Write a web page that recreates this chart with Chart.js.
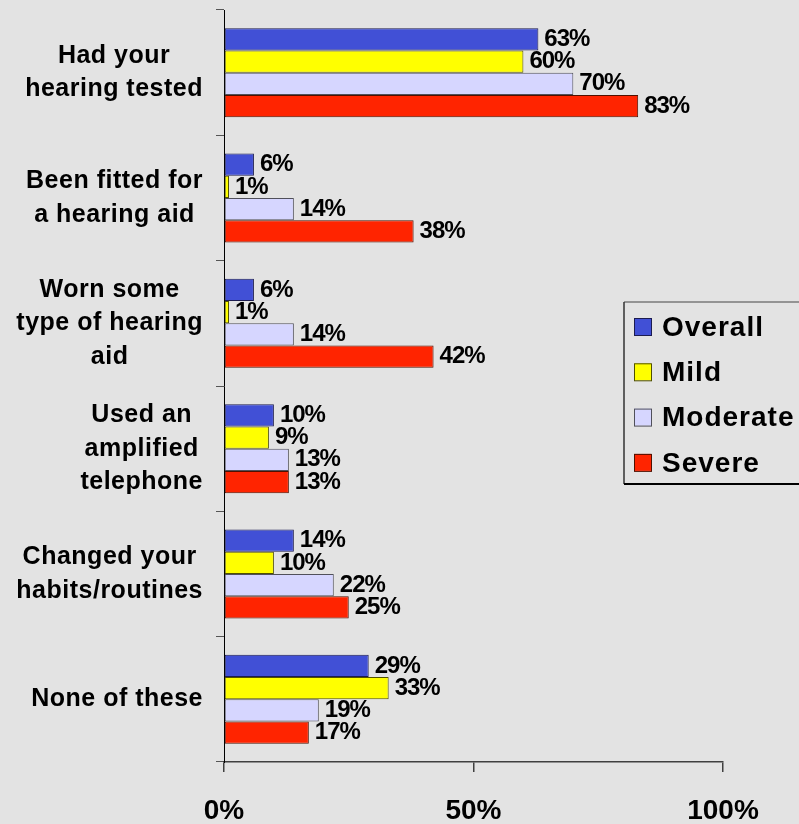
<!DOCTYPE html>
<html>
<head>
<meta charset="utf-8">
<script src="https://cdn.jsdelivr.net/npm/chart.js@4.4.1/dist/chart.umd.min.js"></script>
<style>
  html, body { margin: 0; padding: 0; background: #e3e3e3; }
  #wrap { width: 799px; height: 824px; }
</style>
</head>
<body>
<div id="wrap"><canvas id="chart"></canvas></div>
<script>
// Categories (multi-line, as in the original)
const categories = [
  ['Had your', 'hearing tested'],
  ['Been fitted for', 'a hearing aid'],
  ['Worn some', 'type of hearing', 'aid'],
  ['Used an', 'amplified', 'telephone'],
  ['Changed your', 'habits/routines'],
  ['None of these']
]

// Series values (%)
const overall  = [63, 6, 6, 10, 14, 29]
const mild     = [60, 1, 1, 9, 10, 33]
const moderate = [70, 14, 14, 13, 22, 19]
const severe   = [83, 38, 42, 13, 25, 17]

const seriesNames = ['Overall', 'Mild', 'Moderate', 'Severe']
const xTicks = [0, 50, 100]

const FONT = "'Liberation Sans', Arial, sans-serif"

/* ===============================
   PLUGINS
================================ */
const bgPlugin = {
  id: 'bg',
  beforeDraw(chart) {
    const ctx = chart.ctx
    ctx.save()
    ctx.fillStyle = '#e3e3e3'
    ctx.fillRect(0, 0, chart.width, chart.height)
    ctx.restore()
  }
}

// category labels, each one centred on its own widest line
const catLabelPlugin = {
  id: 'catLabels',
  afterDraw(chart) {
    const ctx = chart.ctx
    const yScale = chart.scales.y
    const rightEdge = yScale.right - 21
    ctx.save()
    ctx.font = 'bold 25px ' + FONT
    ctx.letterSpacing = '0.5px'
    ctx.fillStyle = '#000'
    ctx.textAlign = 'center'
    ctx.textBaseline = 'middle'
    chart.data.labels.forEach((lines, i) => {
      const y = yScale.getPixelForValue(i)
      const widest = Math.max(...lines.map(l => ctx.measureText(l).width))
      const cx = rightEdge - widest / 2
      lines.forEach((l, j) => {
        ctx.fillText(l, cx, y + (j - (lines.length - 1) / 2) * 33.5)
      })
    })
    ctx.restore()
  }
}

// value labels at the end of each bar
const valueLabelPlugin = {
  id: 'valueLabels',
  afterDatasetsDraw(chart) {
    const ctx = chart.ctx
    ctx.save()
    ctx.font = 'bold 24px ' + FONT
    ctx.letterSpacing = '-1px'
    ctx.fillStyle = '#000'
    ctx.textAlign = 'left'
    ctx.textBaseline = 'middle'
    chart.data.datasets.forEach((ds, di) => {
      const meta = chart.getDatasetMeta(di)
      meta.data.forEach((bar, i) => {
        ctx.fillText(ds.data[i] + '%', bar.x + 6, bar.y)
      })
    })
    ctx.restore()
  }
}

// boxed legend floating over the right side (runs off the canvas edge)
const legendBoxPlugin = {
  id: 'legendBox',
  afterDraw(chart) {
    const ctx = chart.ctx
    const left = 624, top = 302, bottom = 484, right = chart.width + 5
    ctx.save()
    ctx.lineWidth = 1.5
    ctx.strokeStyle = '#7a7a7a'
    ctx.beginPath(); ctx.moveTo(left, top); ctx.lineTo(right, top); ctx.stroke()
    ctx.strokeStyle = '#333'
    ctx.beginPath(); ctx.moveTo(left, top); ctx.lineTo(left, bottom); ctx.stroke()
    ctx.strokeStyle = '#000'
    ctx.lineWidth = 2
    ctx.beginPath(); ctx.moveTo(left, bottom); ctx.lineTo(right, bottom); ctx.stroke()

    ctx.font = 'bold 28px ' + FONT
    ctx.letterSpacing = '1px'
    ctx.textAlign = 'left'
    ctx.textBaseline = 'middle'
    chart.data.datasets.forEach((ds, i) => {
      const cy = top + 25 + i * 45.3
      ctx.fillStyle = ds.backgroundColor
      ctx.fillRect(634, cy - 9, 17, 17)
      ctx.strokeStyle = ds.borderColor
      ctx.lineWidth = 1
      ctx.strokeRect(634.5, cy - 8.5, 17, 17)
      ctx.fillStyle = '#000'
      ctx.fillText(ds.label, 662, cy + 1)
    })
    ctx.restore()
  }
}

/* ===============================
   CHART
================================ */
const colors = ['#4150d6', '#ffff00', '#d6d6ff', '#ff2400']
const borders = ['#1c1c50', '#505000', '#50505a', '#501000']
const values = [overall, mild, moderate, severe]

new Chart(document.getElementById('chart'), {
  type: 'bar',
  data: {
    labels: categories,
    datasets: seriesNames.map((name, i) => ({
      label: name,
      data: values[i],
      backgroundColor: colors[i],
      borderColor: borders[i],
      borderWidth: 1,
      borderSkipped: false,
      categoryPercentage: 0.71,
      barPercentage: 1.0
    }))
  },
  options: {
    indexAxis: 'y',
    responsive: true,
    maintainAspectRatio: false,
    animation: false,
    layout: { padding: { top: 10, right: 76, left: 0, bottom: 0 } },
    plugins: {
      legend: { display: false },
      tooltip: { enabled: false }
    },
    scales: {
      x: {
        min: 0,
        max: 100,
        afterBuildTicks: scale => { scale.ticks = xTicks.map(v => ({ value: v })) },
        afterFit: scale => { scale.height = 62 },
        ticks: {
          callback: v => v + '%',
          color: '#000',
          font: { family: FONT, size: 28, weight: 'bold' },
          padding: 22,
          maxRotation: 0
        },
        grid: { drawOnChartArea: false, tickLength: 10, color: '#404040', lineWidth: 1.5 },
        border: { color: '#404040', width: 1.5 }
      },
      y: {
        afterFit: scale => { scale.width = 224 },
        ticks: { display: false },
        grid: { drawOnChartArea: false, tickLength: 8, color: '#555', offset: true },
        border: { color: '#000', width: 1 }
      }
    }
  },
  plugins: [bgPlugin, catLabelPlugin, valueLabelPlugin, legendBoxPlugin]
})
</script>
</body>
</html>
